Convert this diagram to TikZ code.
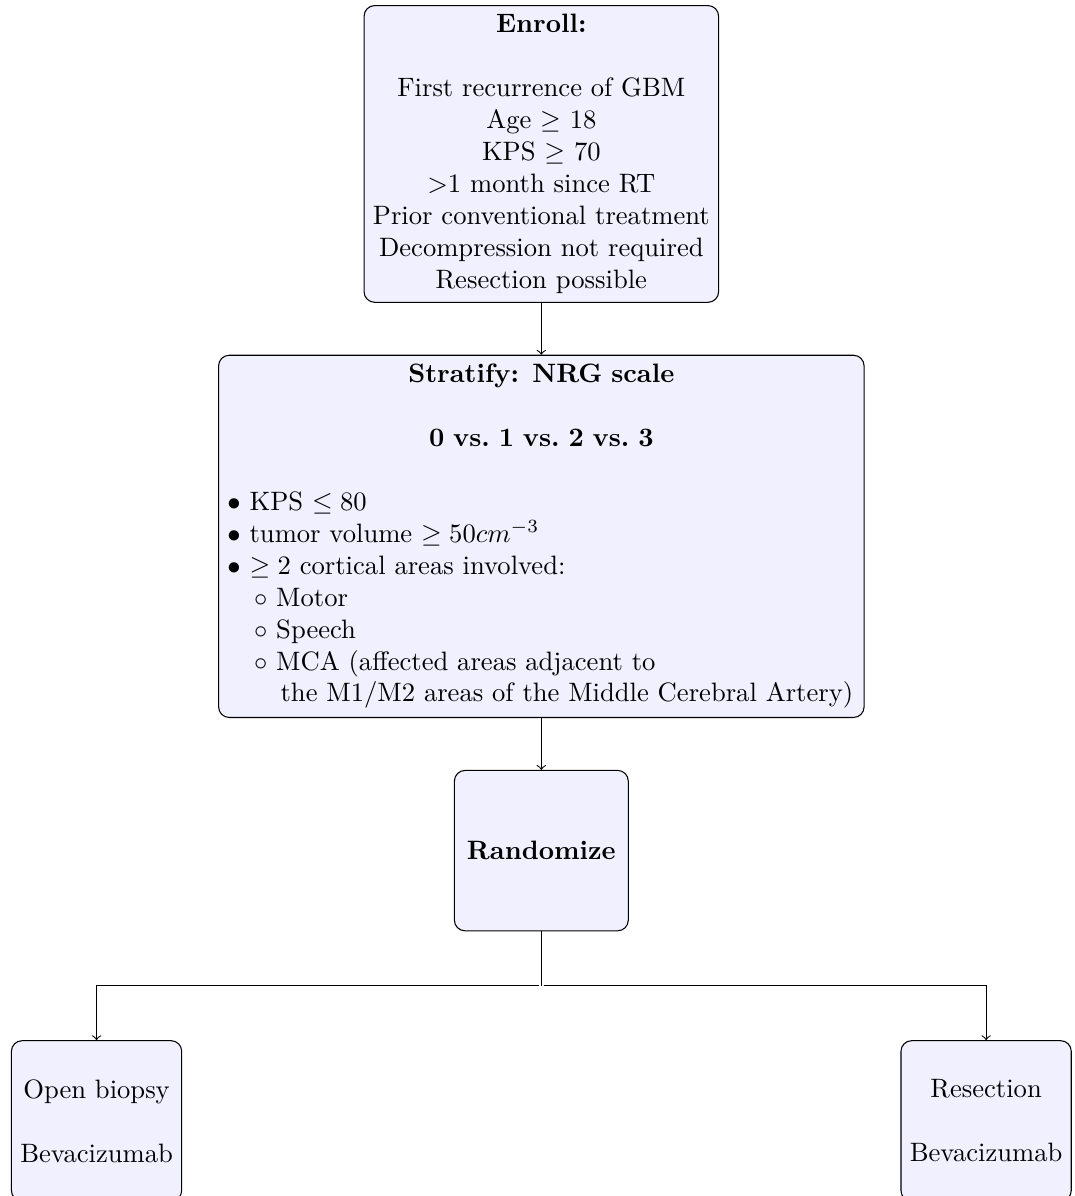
\documentclass[tikz,border=0pt]{standalone}
\usetikzlibrary{positioning}
\begin{document}
\begin{tikzpicture}[node distance=19.5pt,
  block/.style={rectangle, draw, fill=blue!6, rounded corners, align=center},
  arrowline/.style={draw, ->}]
%set diagram frame, 1074x1196 at 2.66px per pt
\useasboundingbox (0,0) rectangle (403.8pt,-449.6pt);

% Text Node
\node[block, anchor=north] (enroll) at (203.5pt,-1.9pt)
  {\textbf{Enroll:}\\[\baselineskip]
   First recurrence of GBM\\
   Age $\geq$ 18\\
   KPS $\geq$ 70\\
   $>$1 month since RT\\
   Prior conventional treatment\\
   Decompression not required\\
   Resection possible};
% Text Node
\node[block, below=of enroll, text width=236pt, align=left] (stratify)
  {{\centering\bfseries Stratify: NRG scale\\[\baselineskip]
    0 vs.\ 1 vs.\ 2 vs.\ 3\par}
   \vspace{\baselineskip}
   $\bullet$ KPS $\leq 80$\\
   $\bullet$ tumor volume $\geq 50cm^{-3}$\\
   $\bullet$ $\geq 2$ cortical areas involved:\\
   \quad$\circ$ Motor\\
   \quad$\circ$ Speech\\
   \quad$\circ$ MCA (affected areas adjacent to\\
   \mbox{\quad\quad the M1/M2 areas of the Middle Cerebral Artery)}};
% Text Node
\node[block, below=of stratify, text width=58.7pt, minimum height=60.3pt] (random)
  {\textbf{Randomize}};
% split point
\node[inner sep=0pt, minimum size=1.5pt, below=of random] (split) {};
% Text Node
\node[block, below=of split, xshift=-167.2pt, minimum height=60.3pt] (biopsy)
  {Open biopsy\\[\baselineskip]Bevacizumab};
% Text Node
\node[block, below=of split, xshift=167.2pt, minimum height=60.3pt] (resect)
  {Resection\\[\baselineskip]Bevacizumab};

%Straight Lines
\path[arrowline] (enroll) -- (stratify);
\path[arrowline] (stratify) -- (random);
\draw (random) -- (split.center);
\path[arrowline] (split) -| (biopsy);
\path[arrowline] (split) -| (resect);

\end{tikzpicture}
\end{document}
